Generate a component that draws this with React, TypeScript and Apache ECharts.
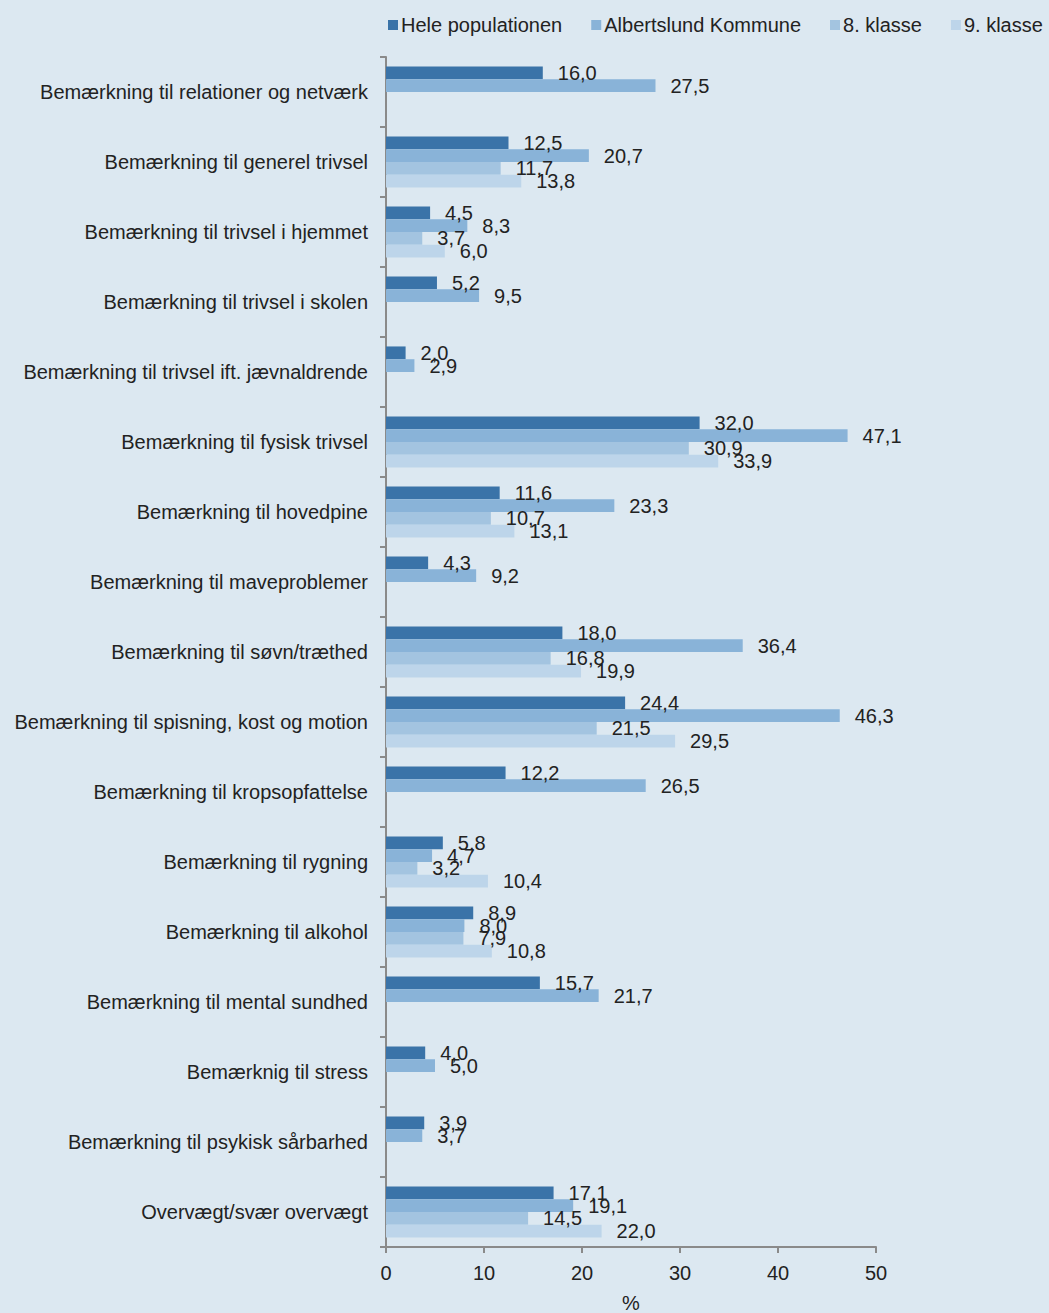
import React, { useEffect, useRef } from "react";
import * as echarts from "echarts";

const categories = [
  "Bemærkning til relationer og netværk",
  "Bemærkning til generel trivsel",
  "Bemærkning til trivsel i hjemmet",
  "Bemærkning til trivsel i skolen",
  "Bemærkning til trivsel ift. jævnaldrende",
  "Bemærkning til fysisk trivsel",
  "Bemærkning til hovedpine",
  "Bemærkning til maveproblemer",
  "Bemærkning til søvn/træthed",
  "Bemærkning til spisning, kost og motion",
  "Bemærkning til kropsopfattelse",
  "Bemærkning til rygning",
  "Bemærkning til alkohol",
  "Bemærkning til mental sundhed",
  "Bemærknig til stress",
  "Bemærkning til psykisk sårbarhed",
  "Overvægt/svær overvægt",
];

const helePopulationen = [16.0, 12.5, 4.5, 5.2, 2.0, 32.0, 11.6, 4.3, 18.0, 24.4, 12.2, 5.8, 8.9, 15.7, 4.0, 3.9, 17.1];
const albertslund = [27.5, 20.7, 8.3, 9.5, 2.9, 47.1, 23.3, 9.2, 36.4, 46.3, 26.5, 4.7, 8.0, 21.7, 5.0, 3.7, 19.1];
const klasse8 = [null, 11.7, 3.7, null, null, 30.9, 10.7, null, 16.8, 21.5, null, 3.2, 7.9, null, null, null, 14.5];
const klasse9 = [null, 13.8, 6.0, null, null, 33.9, 13.1, null, 19.9, 29.5, null, 10.4, 10.8, null, null, null, 22.0];

const seriesNames = ["Hele populationen", "Albertslund Kommune", "8. klasse", "9. klasse"];
const seriesColors = ["#3a73a8", "#89b3d8", "#a3c4e0", "#bdd5ea"];
const xTicks = [0, 10, 20, 30, 40, 50];

const FONT = "'Liberation Sans', Arial, sans-serif";
const TEXT = "#222222";
const FS = 20;

export default function App() {
  const ref = useRef<HTMLDivElement>(null);
  useEffect(() => {
    if (!ref.current) return;
    const chart = echarts.init(ref.current, null, { renderer: "svg" });
    const data = [helePopulationen, albertslund, klasse8, klasse9];
    chart.setOption({
      animation: false,
      backgroundColor: "#dce8f1",
      textStyle: { fontFamily: FONT },
      legend: {
        left: 383,
        top: 10,
        itemWidth: 10,
        itemHeight: 10,
        itemGap: 29,
        icon: "rect",
        textStyle: { fontSize: FS, color: TEXT, fontFamily: FONT, padding: [0, 0, 0, -2] },
        data: seriesNames,
      },
      grid: { left: 386, right: 173, top: 57, bottom: 66, containLabel: false, outerBoundsMode: "none" },
      xAxis: {
        type: "value",
        min: xTicks[0],
        max: xTicks[xTicks.length - 1],
        interval: 10,
        name: "%",
        nameLocation: "middle",
        nameGap: 46,
        nameTextStyle: { fontSize: FS, color: TEXT, fontFamily: FONT },
        axisLine: { show: true, lineStyle: { color: "#8a8a8a", width: 2 } },
        axisTick: { show: true, length: 6, lineStyle: { color: "#8a8a8a", width: 2 } },
        axisLabel: { fontSize: FS, color: TEXT, margin: 16, fontFamily: FONT },
        splitLine: { show: false },
      },
      yAxis: {
        type: "category",
        inverse: true,
        data: categories,
        axisLine: { show: true, lineStyle: { color: "#8a8a8a", width: 2 } },
        axisTick: { show: true, length: 6, alignWithLabel: false, lineStyle: { color: "#8a8a8a", width: 2 } },
        axisLabel: { fontSize: FS, color: TEXT, margin: 18, fontFamily: FONT },
        splitLine: { show: false },
      },
      series: seriesNames.map((name, i) => ({
        name,
        type: "bar",
        data: data[i],
        barGap: "0%",
        barCategoryGap: "27%",
        itemStyle: { color: seriesColors[i] },
        label: {
          show: true,
          position: "right",
          distance: 15,
          fontSize: FS,
          color: TEXT,
          fontFamily: FONT,
          formatter: (p: any) => (p.value == null ? "" : Number(p.value).toFixed(1).replace(".", ",")),
        },
      })),
    });
    return () => chart.dispose();
  }, []);
  return (
    <div
      ref={ref}
      style={{ position: "absolute", left: 0, top: 0, width: 1049, height: 1313 }}
    />
  );
}
